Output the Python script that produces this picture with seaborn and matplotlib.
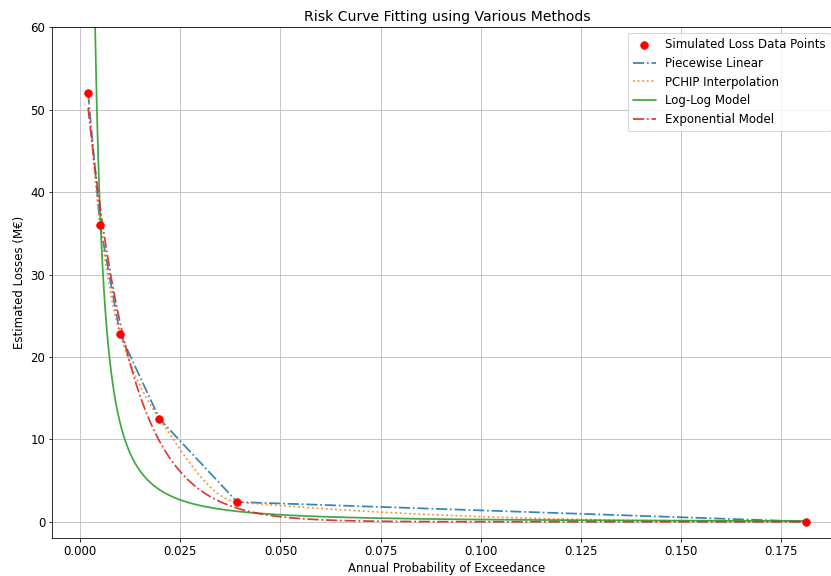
import numpy as np
import pandas as pd
import seaborn as sns
import matplotlib
matplotlib.use("Agg")
import matplotlib.pyplot as plt

sns.set_style("ticks", {"axes.grid": True, "grid.color": "#c0c0c0",
                        "axes.edgecolor": "black", "text.color": "black",
                        "axes.labelcolor": "black", "xtick.color": "black",
                        "ytick.color": "black"})
plt.rcParams["font.size"] = 11.7
plt.rcParams["grid.linewidth"] = 0.9

# Simulated loss data (return periods 500, 200, 100, 50, 25, 5 years)
return_periods = [500, 200, 100, 50, 25, 5]
losses = [52.0, 36.0, 22.8, 12.5, 2.4, 0.03]   # M EUR

prob = 1 - np.exp(-1 / np.array(return_periods, dtype=float))
loss = np.array(losses)

# sort by probability for the interpolators
order = np.argsort(prob)
p_s = prob[order]
l_s = loss[order]

p_grid = np.linspace(p_s.min(), p_s.max(), 500)


def pchip(x, y, xn):
    # monotone cubic (Fritsch-Carlson, same as scipy PchipInterpolator)
    h = np.diff(x)
    delta = np.diff(y) / h
    n = len(x)
    d = np.zeros(n)
    for k in range(1, n - 1):
        if delta[k - 1] * delta[k] > 0:
            w1 = 2 * h[k] + h[k - 1]
            w2 = h[k] + 2 * h[k - 1]
            d[k] = (w1 + w2) / (w1 / delta[k - 1] + w2 / delta[k])

    def edge(h0, h1, m0, m1):
        dd = ((2 * h0 + h1) * m0 - h0 * m1) / (h0 + h1)
        if np.sign(dd) != np.sign(m0):
            dd = 0.0
        elif np.sign(m0) != np.sign(m1) and abs(dd) > abs(3 * m0):
            dd = 3 * m0
        return dd

    d[0] = edge(h[0], h[1], delta[0], delta[1])
    d[-1] = edge(h[-1], h[-2], delta[-1], delta[-2])

    idx = np.clip(np.searchsorted(x, xn) - 1, 0, n - 2)
    t = (xn - x[idx]) / h[idx]
    h00 = 2 * t**3 - 3 * t**2 + 1
    h10 = t**3 - 2 * t**2 + t
    h01 = -2 * t**3 + 3 * t**2
    h11 = t**3 - t**2
    return (h00 * y[idx] + h10 * h[idx] * d[idx]
            + h01 * y[idx + 1] + h11 * h[idx] * d[idx + 1])


# piecewise linear and PCHIP
lin_vals = np.interp(p_grid, p_s, l_s)
pchip_vals = pchip(p_s, l_s, p_grid)

# log-log model: log L = a + b log p
b_ll, a_ll = np.polyfit(np.log(p_s), np.log(l_s), 1)
loglog_vals = np.exp(a_ll) * p_grid**b_ll

# exponential model: L = a * exp(-b p), least squares
best = None
for b in np.linspace(1, 400, 8000):
    e = np.exp(-b * p_s)
    a = np.sum(l_s * e) / np.sum(e * e)
    sse = np.sum((l_s - a * e) ** 2)
    if best is None or sse < best[0]:
        best = (sse, a, b)
_, a_ex, b_ex = best
exp_vals = a_ex * np.exp(-b_ex * p_grid)

curves = pd.DataFrame({
    "p": p_grid,
    "Piecewise Linear": lin_vals,
    "PCHIP Interpolation": pchip_vals,
    "Log-Log Model": loglog_vals,
    "Exponential Model": exp_vals,
})

fig = plt.figure(figsize=(831 / 72, 576 / 72), dpi=72)
ax = fig.add_axes([0.0629, 0.0655, 0.9503, 0.8871])

sns.scatterplot(x=prob, y=loss, color="red", s=60, edgecolor="red",
                label="Simulated Loss Data Points", zorder=3, ax=ax)
styles = {
    "Piecewise Linear": ("tab:blue", "-."),
    "PCHIP Interpolation": ("tab:orange", ":"),
    "Log-Log Model": ("tab:green", "-"),
    "Exponential Model": ("tab:red", "-."),
}
for name, (col, ls) in styles.items():
    sns.lineplot(data=curves, x="p", y=name, color=col, linestyle=ls,
                 linewidth=1.75, alpha=0.9, label=name, ax=ax)

ax.spines["right"].set_visible(False)
ax.set_ylim(-2, 60)
ax.set_title("Risk Curve Fitting using Various Methods", fontsize=14)
ax.set_xlabel("Annual Probability of Exceedance")
ax.set_ylabel("Estimated Losses (M€)")
ax.legend(loc="upper right", bbox_to_anchor=(0.993, 1.0))

fig.savefig("out.png", dpi=72)
